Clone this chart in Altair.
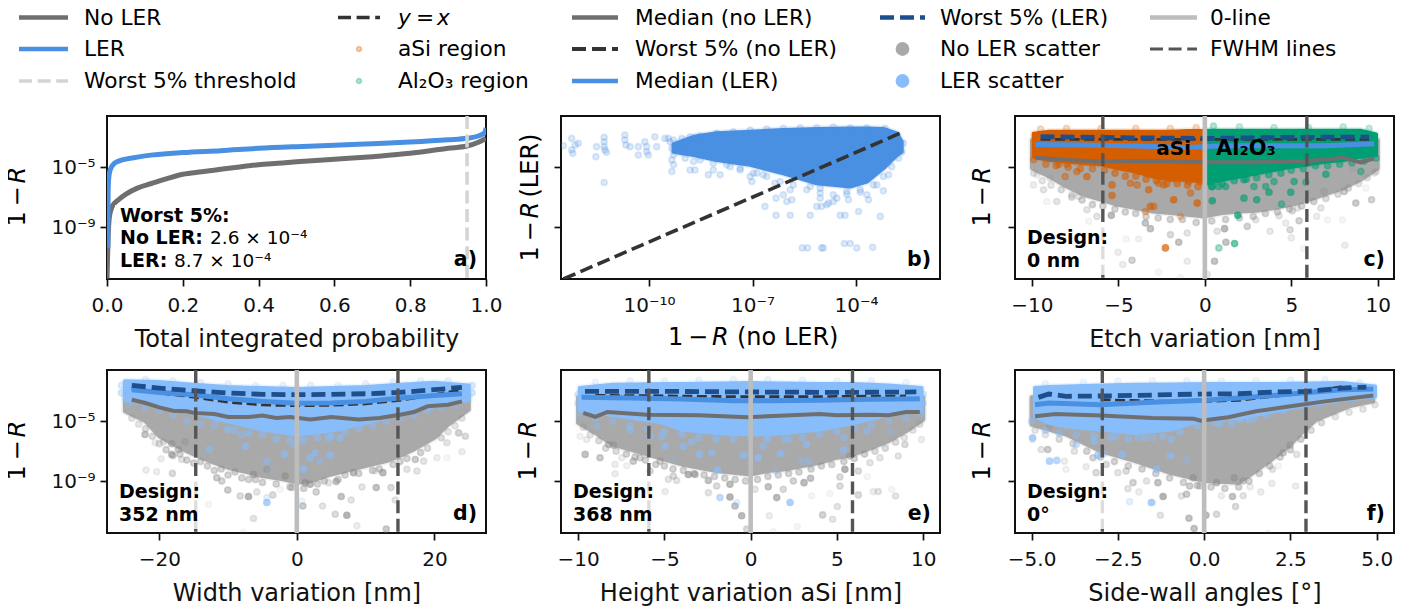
import altair as alt
import pandas as pd

FONT = "DejaVu Sans"
TICK_FS = 20
TITLE_FS = 24
LEG_FS = 21.7
ANN_FS = 18.5
BOLD_FS = 19
W, H = 379, 163
YDOM = [10 ** -12.48, 10 ** -1.57]

GRAY_LINE = "#6f6f6f"
BLUE_LINE = "#4a90e2"
DARK_BLUE = "#1f4e8c"
DARK = "#333333"
GRAY_PT = "#a9a9a9"
BLUE_PT = "#88bdfb"
ORANGE = "#d55e00"
GREEN = "#009e73"
ZERO = "#bdbdbd"
FWHM = "#555555"
THRESH = "#d4d4d4"

# panel a: exceedance curves (p, log10(1-R))
a_ler = [(0.002, -10.4), (0.003, -6.62), (0.005, -5.62), (0.01, -5.07), (0.02, -4.73), (0.04, -4.51),
         (0.07, -4.36), (0.1, -4.24), (0.2, -4.02), (0.3, -3.89), (0.4, -3.73), (0.5, -3.62), (0.6, -3.53),
         (0.7, -3.42), (0.8, -3.31), (0.9, -3.16), (0.95, -3.06), (0.98, -2.91), (0.99, -2.8), (0.998, -2.62),
         (1.0, -2.36)]
a_noler = [(0.0, -12.44), (0.001, -11.51), (0.003, -9.73), (0.006, -8.4), (0.012, -7.73), (0.02, -7.4),
           (0.03, -7.18), (0.05, -6.8), (0.08, -6.4), (0.12, -6.07), (0.16, -5.75), (0.2, -5.47), (0.25, -5.3),
           (0.3, -5.14), (0.35, -4.98), (0.4, -4.84), (0.45, -4.74), (0.5, -4.64), (0.6, -4.47), (0.7, -4.29),
           (0.8, -4.07), (0.9, -3.73), (0.95, -3.58), (0.98, -3.33), (1.0, -3.07)]

# panel b: dense envelope (x, top, bottom) and sparse points (x, y)
b_blob = [(-9.29, -3.47, -3.96), (-8.71, -2.96, -4.18), (-8.04, -2.73, -4.51), (-7.07, -2.62, -4.84),
          (-6.11, -2.51, -5.4), (-5.14, -2.44, -6.07), (-4.17, -2.4, -6.29), (-3.69, -2.4, -5.96),
          (-3.21, -2.44, -5.07), (-2.82, -2.73, -4.18), (-2.68, -3.29, -3.96)]
b_points = [(-12.48, -3.56), (-12.24, -3.07), (-12.24, -3.84), (-12.21, -4.07), (-12.05, -3.4), (-12.14, -3.51),
            (-11.54, -4.29), (-11.52, -3.62), (-11.3, -3.0), (-11.3, -3.29), (-11.3, -3.62), (-11.28, -3.84),
            (-11.23, -4.0), (-11.3, -6.02), (-10.7, -2.84), (-10.7, -3.18), (-10.67, -3.51), (-10.55, -3.62),
            (-10.31, -3.62), (-10.31, -4.18), (-10.12, -3.29), (-10.07, -3.62), (-10.07, -3.96), (-10.02, -4.18),
            (-9.83, -2.96), (-9.78, -3.62), (-9.54, -3.07), (-9.44, -3.07), (-9.39, -3.29), (-9.34, -3.73),
            (-9.2, -3.73), (-9.1, -3.51), (-9.05, -3.96), (-8.81, -2.96), (-9.34, -4.51), (-9.29, -4.84),
            (-9.34, -5.29), (-8.81, -5.18), (-8.67, -5.18), (-8.28, -5.51), (-8.14, -5.18), (-7.94, -5.51),
            (-7.65, -4.96), (-7.36, -5.07), (-7.07, -5.62), (-7.02, -5.96), (-6.88, -5.4), (-6.69, -5.51),
            (-6.64, -7.62), (-6.35, -6.07), (-6.32, -7.07), (-6.32, -8.22), (-6.11, -6.84), (-6.01, -7.29),
            (-5.91, -6.51), (-5.86, -7.18), (-5.91, -8.22), (-5.33, -8.22), (-5.14, -7.62), (-5.0, -7.62),
            (-4.8, -7.4), (-4.66, -7.29), (-4.22, -7.18), (-3.93, -7.96), (-3.64, -7.18), (-3.3, -8.29),
            (-4.46, -8.22), (-4.32, -8.22), (-5.56, -10.4), (-5.41, -10.4), (-5.0, -10.4), (-4.95, -10.4),
            (-4.34, -10.11), (-4.17, -10.11), (-3.98, -10.4), (-3.52, -10.36), (-5.04, -7.07), (-4.85, -7.51),
            (-4.56, -7.07), (-4.27, -6.62), (-3.88, -6.51), (-3.21, -6.58), (-3.06, -5.51), (-5.33, -6.29),
            (-5.04, -6.4), (-3.69, -6.84), (-3.4, -6.18),
            (-8.52, -2.89), (-8.04, -2.73), (-7.56, -2.62), (-7.07, -2.51), (-6.59, -2.44), (-6.11, -2.4),
            (-5.62, -2.36), (-5.14, -2.36), (-4.66, -2.31), (-4.17, -2.36), (-3.69, -2.36), (-3.16, -2.4),
            (-8.52, -4.51), (-8.14, -4.73), (-7.75, -4.84), (-7.36, -5.18), (-6.98, -5.4), (-6.59, -5.62),
            (-6.2, -5.96), (-5.82, -6.18), (-5.43, -6.51), (-5.04, -6.73), (-4.66, -6.84), (-4.27, -6.8),
            (-3.88, -6.67), (-3.5, -6.18), (-3.21, -5.62), (-2.97, -4.96), (-2.77, -4.4), (-2.68, -3.96),
            (-2.63, -3.4), (-9.29, -3.18), (-9.05, -3.07), (-9.29, -4.18), (-8.95, -4.4), (-8.71, -4.62)]
b_identity = [(-12.48, -12.48), (-2.72, -2.72)]

# panel c
c_gray_blob = [(-10, -3.2, -5.07), (-9, -3.2, -5.62), (-8, -3.2, -6.29), (-7, -3.2, -6.84), (-6, -3.2, -7.18),
               (-5, -3.2, -7.51), (-4, -3.2, -7.73), (-3, -3.2, -7.96), (-2, -3.2, -8.07), (-1, -3.2, -8.18),
               (0, -3.2, -8.29), (1, -3.2, -8.07), (2, -3.2, -7.96), (3, -3.2, -7.91), (4, -3.2, -7.73),
               (5, -3.2, -7.51), (6, -3.2, -7.18), (7, -3.2, -6.8), (8, -3.2, -6.4), (9, -3.2, -5.84),
               (10, -3.2, -5.07)]
c_orange_blob = [(-9.9, -2.75, -4.29), (-9, -2.62, -4.51), (-8, -2.62, -4.62), (-7, -2.62, -4.73), (-6, -2.62, -4.8),
                 (-5, -2.62, -5.07), (-4, -2.62, -5.29), (-3, -2.62, -5.62), (-2, -2.62, -5.84), (-1, -2.58, -5.84),
                 (-0.15, -2.58, -5.96)]
c_green_blob = [(0.15, -2.55, -6.07), (1, -2.55, -5.84), (2, -2.55, -5.62), (3, -2.55, -5.4), (4, -2.55, -5.18),
                (5, -2.55, -4.96), (6, -2.55, -4.8), (7, -2.55, -4.62), (8, -2.55, -4.51), (9, -2.55, -4.29),
                (9.9, -2.8, -4.18)]
c_gray = [(-5.41, -8.22, .8), (-3.44, -8.73, .7), (-3.15, -9.11, .7), (-1.99, -9.51, .4), (-1.51, -10.02, .7),
          (-1.02, -9.4, .3), (1.22, -10.02, .7), (1.14, -9.11, .8), (.56, -11.29, .7), (-4.21, -11.22, .5),
          (-4.75, -11.51, .2), (-5.02, -10.69, .2), (-4.54, -9.8, .1), (-3.83, -9.8, .15), (-2.67, -12.02, .1),
          (-1.02, -11.29, .2), (0.14, -12.18, .25), (-1.41, -12.4, .1), (.71, -9.29, .3), (2.45, -8.96, .5),
          (2.94, -8.51, .3), (4.29, -8.24, .3), (4.68, -8.73, .2), (4.93, -9.18, .4), (5.0, -9.73, .2),
          (3.77, -9.29, .25), (5.45, -8.58, .5), (6.47, -8.29, .2), (7.09, -8.51, .1), (7.96, -8.51, .1),
          (8.1, -10.22, .2), (5.7, -10.44, .1), (8.73, -7.4, .6), (8.06, -6.62, .6), (9.64, -7.18, .5),
          (6.71, -7.73, .3), (5.35, -7.73, .3), (5.06, -7.91, .4), (-6.24, -8.29, .3), (-6.72, -8.62, .1),
          (-6.82, -7.84, .3), (-8.56, -7.29, .3), (-9.14, -7.29, .1), (-9.33, -6.51, .3), (-9.91, -6.18, .2),
          (-7.69, -6.84, .3), (-7.3, -6.96, .3), (-9.72, -5.51, .2), (8.54, -5.07, .2), (9.8, -5.4, .2),
          (9.31, -6.4, .1), (6.9, -6.62, .3), (-8.95, -5.73, .2),
          (-9.9, -5.4, .3), (-9.4, -5.9, .3), (-8.9, -6.2, .3), (-8.3, -6.5, .4), (-7.7, -7, .4), (-7.1, -7.2, .5),
          (-6.5, -7.5, .5), (-5.9, -7.6, .5), (-5.2, -7.8, .5), (-4.6, -8, .5), (-4, -8.1, .5), (-3.4, -8.3, .5),
          (-2.7, -8.4, .5), (-2, -8.5, .5), (-1.3, -8.5, .5), (-0.5, -8.7, .5), (0.4, -8.6, .5), (1.2, -8.5, .5),
          (2, -8.4, .5), (2.8, -8.3, .5), (3.5, -8.1, .5), (4.2, -8, .5), (4.9, -7.8, .5), (5.6, -7.6, .5),
          (6.3, -7.3, .5), (7, -7.1, .4), (7.7, -6.8, .4), (8.3, -6.4, .4), (8.9, -6.1, .3), (9.4, -5.7, .3),
          (9.9, -5.3, .3)]
c_orange = [(-2.28, -10.4, 1), (-1.8, -7.18, 1), (-0.44, -7.4, 1), (-3.25, -6.51, .9), (-3.15, -7.62, .8),
            (-3.44, -7.96, .5), (-2.96, -7.62, .7), (-5.37, -6.89, .9), (-5.37, -6.18, .9), (-0.93, -5.96, .9),
            (-0.25, -5.96, .8), (-2.38, -6.18, .8), (-0.83, -6.73, .7), (-1.41, -8.29, .3), (-6.82, -5.62, .9),
            (-7.4, -5.29, .7), (-8.08, -5.62, .6), (-8.46, -4.8, .9), (-7.98, -4.8, .8), (-4.31, -6.07, .7),
            (-3.92, -6.18, .7), (-2.67, -6.07, .7),
            (-9.9, -4.5, .6), (-9.2, -4.8, .7), (-8.6, -4.9, .7), (-7.9, -5, .7), (-7.2, -5.1, .7), (-6.5, -5.1, .7),
            (-5.8, -5.2, .7), (-5.2, -5.4, .8), (-4.6, -5.6, .8), (-4, -5.6, .8), (-3.4, -5.8, .8), (-2.8, -5.9, .8),
            (-2.2, -6.1, .8), (-1.6, -6.1, .8), (-1, -6.2, .8), (-0.4, -6.3, .8),
            (-9.5, -2.45, .3), (-8, -2.4, .3), (-6, -2.4, .3), (-4, -2.4, .3), (-2, -2.4, .3), (-0.5, -2.35, .3)]
c_green = [(1.91, -8.22, 1), (0.43, -7.24, 1), (2.26, -7.07, .9), (3.0, -7.18, .9), (1.72, -10.11, .8),
           (0.81, -10.4, .5), (4.44, -7.47, .6), (4.97, -6.67, .9), (3.71, -6.67, .9), (5.16, -5.96, .8),
           (4.0, -5.96, .7), (7.0, -5.47, .9), (9.02, -5.29, .6), (5.84, -6.0, .6), (0.43, -6.29, .9),
           (.81, -6.29, .8), (1.2, -6.29, .8), (2.26, -5.84, .8), (2.84, -6.29, .7), (3.52, -6.29, .7),
           (0.4, -6.3, .8), (1, -6.1, .8), (1.7, -5.9, .8), (2.4, -5.8, .8), (3, -5.7, .8), (3.7, -5.5, .8),
           (4.4, -5.4, .8), (5, -5.2, .7), (5.7, -5.1, .7), (6.4, -4.9, .7), (7.1, -4.9, .7), (7.8, -4.8, .7),
           (8.5, -4.7, .7), (9.2, -4.6, .6), (9.9, -4.4, .6),
           (0.5, -2.25, .4), (2, -2.3, .3), (4, -2.35, .3), (6, -2.35, .3), (8, -2.3, .3), (9.5, -2.4, .3)]
c_med_noler = [(-9.8, -4.36), (-8, -4.51), (-6, -4.62), (-3, -4.58), (-0.2, -4.67), (3, -4.67), (6, -4.58),
               (8, -4.36), (9, -4.67), (9.8, -4.4)]
c_med_ler = [(-9.8, -3.47), (-7, -3.51), (-4, -3.58), (-1, -3.67), (1, -3.56), (4, -3.56), (7, -3.56), (9.8, -3.42)]
c_w_noler = [(-9.5, -3.13), (-5, -3.13), (0, -3.13), (5, -3.13), (9.5, -3.13)]
c_w_ler = [(-9.5, -2.96), (-5, -3.02), (0, -3.07), (5, -3.0), (9.5, -2.98)]

# panel d
d_gray_blob = [(-25, -3.2, -4.33), (-22, -3.2, -5), (-20, -3.2, -6), (-17, -3.2, -6.78), (-15, -3.2, -7.22),
               (-12, -3.2, -7.78), (-10, -3.2, -8.11), (-7, -3.2, -8.44), (-5, -3.2, -8.67), (-2, -3.2, -8.89),
               (0, -3.2, -9.11), (2, -3.2, -9), (5, -3.2, -8.56), (8, -3.2, -8.22), (10, -3.2, -8), (13, -3.2, -7.67),
               (15, -3.2, -7.33), (17, -3.2, -6.89), (20, -3.2, -6.11), (22, -3.2, -5.22), (25, -3.2, -4.22)]
d_blue_blob = [(-25, -2.33, -3.56), (-20, -2.38, -3.89), (-15, -2.56, -4.44), (-10, -2.71, -5), (-5, -2.78, -5.56),
               (0, -2.84, -5.89), (5, -2.78, -5.62), (10, -2.71, -5.11), (15, -2.56, -4.44), (20, -2.42, -4),
               (25, -2.6, -3.56)]
d_gray = [(-22.07, -5.89, .7), (-20.61, -6.44, .2), (-19.4, -6.38, .3), (-19.74, -7.51, .2), (-21.92, -8.27, .2),
          (-20.37, -8.38, .2), (-18.09, -8.49, .4), (-18.19, -6.51, .6), (-18.19, -7.22, .7), (-17.22, -6.89, .6),
          (-16.73, -7.56, .3), (-16.25, -6.38, .4), (-12.85, -10.56, .1), (-11.64, -8.78, .6), (-10.91, -9, .5),
          (-10.04, -9.6, .6), (-8.24, -10, .4), (-7.03, -10.04, .9), (-5.82, -9.73, .3), (-3.49, -9.93, .4),
          (-2.42, -9.56, .1), (-6.3, -8.56, .7), (-4.36, -8.22, .4), (-1.7, -8.67, .7), (-0.73, -9.44, .5),
          (0.87, -10.67, .6), (1.21, -9.11, .8), (1.94, -9.22, .8), (2.81, -9.73, .5), (3.73, -10.67, .3),
          (4.61, -9.11, .3), (5.72, -9.04, .7), (6.45, -10.04, .7), (7.9, -10.27, .3), (7.27, -11.29, .9),
          (5.58, -11.22, .4), (-6.3, -11.51, .3), (8.73, -12, .2), (13.0, -12.22, .6), (-7.76, -12.44, .1),
          (8.24, -8.44, .8), (9.46, -9.4, .3), (11.54, -9.44, .7), (12.51, -8.44, .8), (13.68, -9.44, .4),
          (14.31, -10.27, .3), (11.4, -8.33, .2), (16.0, -8.22, .3), (17.22, -7.56, .6), (18.43, -7.67, .3),
          (20.37, -7.44, .2), (21.82, -7.44, .1), (24.0, -7.04, .2), (23.52, -5.78, .5), (24.49, -6, .4),
          (21.82, -6.44, .3), (17.46, -8.33, .3),
          (-24, -4.8, .3), (-23, -5.2, .3), (-22, -5.5, .4), (-21, -6, .4), (-20, -6.5, .4), (-19, -6.9, .5),
          (-18, -7.3, .5), (-17, -7.2, .5), (-16, -7.6, .5), (-15, -7.8, .5), (-14, -7.7, .5), (-13, -8, .5),
          (-12, -8.3, .5), (-11, -8.2, .5), (-10, -8.6, .5), (-9, -8.4, .5), (-8, -8.8, .5), (-7, -8.9, .5),
          (-6, -8.9, .5), (-5, -9.1, .5), (-3, -9.2, .5), (-1, -9.4, .5), (1, -9.5, .5), (3, -9.2, .5), (4, -9, .5),
          (6, -8.9, .5), (7, -8.6, .5), (9, -8.5, .5), (11, -8.3, .5), (12, -8.2, .5), (14, -7.9, .5), (15, -7.7, .5),
          (16, -7.5, .5), (18, -7.1, .5), (19, -6.8, .4), (21, -6.1, .4), (22, -5.7, .3), (23, -5.3, .3), (24, -4.8, .3)]
d_blue = [(-4.36, -10.44, 1), (-4.36, -10.11, .3), (0.97, -8.22, .9), (0.73, -10.33, .2), (-7.52, -6.67, .9),
          (-10.04, -5.56, .8), (-12.71, -6.89, .7), (-1.79, -7.22, .9), (-4.36, -7.67, .6), (1.94, -7.44, .9),
          (3.39, -7.67, .5), (4.85, -7.27, .9), (2.67, -7.11, .8), (4.61, -6.11, .9), (6.3, -6.11, .8),
          (0.24, -6.22, .7), (-8.0, -5.89, .6), (-11.64, -4.89, .7), (-3.73, -8.33, .2), (-0.48, -6.56, .6),
          (-25.5, -3.1, .5), (-25.5, -2.6, .4), (-24.5, -3.9, .4), (-22, -4.1, .5), (-20, -4.3, .5), (-18, -4.6, .6),
          (-16, -5, .6), (-14, -5.2, .6), (-12, -5.3, .6), (-9, -5.6, .7), (-7, -5.8, .7), (-5, -5.9, .7),
          (-3, -6.2, .7), (-1, -6.3, .7), (1, -6.3, .7), (3, -6.1, .7), (5, -6, .7), (7, -5.7, .7), (9, -5.5, .7),
          (11, -5.3, .6), (13, -5, .6), (15, -4.8, .6), (17, -4.6, .6), (19, -4.3, .5), (21, -4.1, .5), (23, -3.9, .4),
          (25.5, -3.1, .5), (25.5, -2.6, .4),
          (-22, -2.2, .25), (-18, -2.3, .2), (-14, -2.4, .25), (-10, -2.5, .25), (-6, -2.6, .2), (-2, -2.6, .25),
          (2, -2.6, .25), (6, -2.6, .2), (10, -2.5, .25), (14, -2.4, .25), (18, -2.3, .2), (22, -2.3, .25)]
d_med_noler = [(-24, -3.56), (-22, -3.78), (-20, -4.07), (-18, -4.29), (-16, -4.33), (-15, -4.44), (-12, -4.51),
               (-10, -4.71), (-7, -4.71), (-5, -4.62), (-3, -4.78), (-1, -4.71), (2, -4.89), (5, -4.71), (9, -4.89),
               (12, -4.78), (15, -4.56), (17, -4.38), (19, -4.0), (22, -3.89), (24, -3.67)]
d_med_ler = [(-24, -2.89), (-20, -3.07), (-15, -3.22), (-10, -3.49), (-5, -3.67), (0, -3.8), (5, -3.78), (10, -3.67),
             (15, -3.44), (20, -3.27), (24, -3.16)]
d_w_noler = [(-24, -2.78), (-20, -3.11), (-15, -3.38), (-10, -3.73), (-5, -3.91), (0, -3.96), (5, -3.93), (10, -3.84),
             (15, -3.6), (20, -3.22), (24, -2.89)]
d_w_ler = [(-24, -2.6), (-20, -2.78), (-15, -2.96), (-10, -3.11), (-5, -3.2), (0, -3.22), (5, -3.2), (10, -3.16),
           (15, -3.07), (20, -2.89), (24, -2.73)]

# panel e
e_gray_blob = [(-10, -3.4, -5.11), (-9, -3.4, -5.78), (-8, -3.4, -6.56), (-6, -3.4, -7.22), (-5, -3.4, -7.56),
               (-4, -3.4, -7.89), (-3, -3.4, -8.11), (-2, -3.4, -8.33), (-1, -3.4, -8.44), (0, -3.4, -8.56),
               (1, -3.4, -8.33), (2, -3.4, -8.22), (3, -3.4, -8), (4, -3.4, -7.78), (5, -3.4, -7.44), (6, -3.4, -7.22),
               (7, -3.4, -6.78), (8, -3.4, -6.33), (9, -3.4, -5.67), (10, -3.4, -4.89)]
e_blue_blob = [(-9.9, -2.78, -4.22), (-8, -2.56, -4.56), (-5, -2.51, -5.11), (-4, -2.51, -5.56), (-2, -2.48, -5.78),
               (0, -2.44, -5.89), (2, -2.48, -5.78), (4, -2.51, -5.56), (6, -2.51, -5.11), (8, -2.6, -4.56),
               (9.9, -2.78, -4.22)]
e_gray = [(-9.59, -7.22, .7), (-8.73, -7.44, .6), (-8.24, -6.56, .6), (-7.95, -6.6, .6), (-6.8, -7.67, .6),
          (-7.86, -7.89, .2), (-7.86, -8.51, .2), (-7.18, -7.98, .15), (-7.47, -7.44, .2), (-6.41, -7.44, .5),
          (-5.83, -8.33, .4), (-5.25, -7.67, .5), (-4.96, -9.71, .2), (-4.77, -8.89, .3), (-4.48, -8.67, .4),
          (-4.29, -8.96, .3), (-3.61, -8.56, .9), (-3.22, -8.56, .7), (-2.45, -8.96, .7), (-2.45, -9.78, .3),
          (-1.97, -9.33, .4), (-1.2, -9.22, .8), (-1.2, -10.07, .9), (-0.91, -10.67, .7), (-0.52, -11.33, .8),
          (-0.23, -12.22, .4), (0.25, -9.56, .3), (1.02, -9.38, .7), (1.08, -11.33, .2), (1.31, -12.4, .1),
          (1.51, -10.11, .8), (1.89, -9.56, .4), (2.47, -9, .5), (3.09, -9.11, .8), (3.47, -8.82, .7),
          (2.7, -12.04, .1), (3.53, -9.99, .1), (4.59, -9.84, .1), (4.17, -11.27, .5), (4.75, -11.56, .3),
          (5.02, -10.71, .3), (5.17, -8.73, .4), (5.17, -9.33, .4), (5.46, -8.22, .9), (5.75, -7.33, .5),
          (6.24, -9.93, .4), (6.24, -8.33, .4), (6.76, -8.71, .1), (7.1, -9.71, .2), (7.39, -9.71, .3),
          (8.17, -9.56, .1), (8.4, -10, .3), (6.91, -7.78, .3), (7.49, -7.44, .3), (8.55, -7.33, .3),
          (8.94, -6.56, .4), (9.9, -6.22, .2), (-9.88, -6, .15), (-9.5, -6.22, .2),
          (-9.7, -5.4, .3), (-9.3, -5.9, .3), (-8.8, -6.3, .4), (-8.4, -6.8, .4), (-7.8, -7, .4), (-7.2, -7.2, .5),
          (-6.7, -7.4, .5), (-6.1, -7.6, .5), (-5.5, -7.9, .5), (-5, -8, .5), (-4.5, -8.2, .5), (-3.9, -8.3, .5),
          (-3.3, -8.5, .5), (-2.7, -8.6, .5), (-2.1, -8.7, .5), (-1.5, -8.8, .5), (-0.9, -8.9, .5), (-0.3, -9, .5),
          (0.4, -8.9, .5), (1, -8.7, .5), (1.6, -8.6, .5), (2.2, -8.5, .5), (2.8, -8.4, .5), (3.5, -8.2, .5),
          (4.1, -8, .5), (4.7, -7.9, .5), (5.4, -7.7, .5), (6, -7.5, .5), (6.6, -7.2, .5), (7.2, -7, .4),
          (7.8, -6.8, .4), (8.4, -6.4, .4), (8.9, -6.1, .3), (9.4, -5.6, .3), (9.8, -5.2, .3)]
e_blue = [(-1.93, -8.27, 1), (-1.78, -10.11, .7), (-0.81, -10.44, .3), (2.28, -10.44, 1), (0.44, -7.44, 1),
          (-0.42, -7.27, .9), (1.74, -7.16, .9), (-2.97, -7.22, .9), (-2.26, -7.11, .8), (-4.96, -6.67, .9),
          (-5.83, -6, .8), (-5.15, -6, .7), (-3.42, -6.38, .7), (-3.9, -6.67, .8), (0.93, -6, .9), (0.73, -6.67, .7),
          (2.24, -6.22, .6), (3.24, -6.56, .8), (5.37, -6.93, .8), (5.41, -6.11, .6), (2.95, -7.67, .4),
          (3.34, -7.62, .5), (3.44, -8, .2), (1.47, -8.33, .3), (-4.48, -7.56, .2), (-6.99, -5.56, .8),
          (-8.92, -5.33, .5), (6.72, -5.67, .6), (8.07, -5.71, .3),
          (-9.9, -4.5, .5), (-9, -4.8, .5), (-8, -5, .5), (-7, -5.3, .6), (-6, -5.5, .6), (-5, -5.7, .7),
          (-4, -5.9, .7), (-3, -6.1, .7), (-2, -6.2, .7), (-1, -6.2, .7), (1, -6.2, .7), (2, -6.2, .7), (3, -6.1, .7),
          (4, -5.9, .7), (5, -5.7, .7), (6, -5.5, .6), (7, -5.3, .6), (8, -5, .5), (9, -4.8, .5), (9.9, -4.5, .5),
          (-9, -2.4, .2), (-7, -2.3, .2), (-5, -2.3, .2), (-3, -2.25, .2), (-1, -2.2, .2), (1, -2.2, .2),
          (3, -2.25, .2), (5, -2.3, .2), (7, -2.3, .2), (9, -2.4, .2),
          (-10, -3.2, .4), (-10, -3.8, .4), (10, -3.2, .4), (10, -3.8, .4)]
e_med_noler = [(-9.7, -4.44), (-9, -4.71), (-8.3, -4.38), (-6, -4.56), (-3, -4.6), (-0.2, -4.73), (3, -4.56),
               (4, -4.51), (5, -4.6), (7, -4.56), (8, -4.6), (9, -4.38), (9.8, -4.38)]
e_med_ler = [(-9.8, -3.4), (-7, -3.44), (-4, -3.51), (-1, -3.62), (1, -3.62), (4, -3.6), (7, -3.53), (9.8, -3.49)]
e_w_noler = [(-9, -3.27), (-6, -3.29), (-3, -3.33), (0, -3.36), (3, -3.36), (6, -3.33), (9, -3.31)]
e_w_ler = [(-9.6, -3.0), (-5, -3.0), (0, -3.04), (5, -3.07), (9.6, -3.04)]

# panel f
f_gray_blob = [(-5, -3.4, -5.22), (-4, -3.4, -5.89), (-3, -3.4, -7), (-2, -3.4, -7.67), (-1, -3.4, -8.44),
               (0, -3.4, -9), (1, -3.4, -9.11), (1.5, -3.4, -8.33), (1.9, -3.4, -7.67), (2.5, -3.4, -6.56),
               (2.92, -3.4, -5.56), (3.26, -3.4, -4.89), (4.2, -3.2, -4), (4.9, -2.9, -3.67)]
f_blue_blob = [(-4.9, -2.78, -4.67), (-4.5, -2.7, -5.11), (-4, -2.67, -5.33), (-3, -2.6, -5.56), (-2, -2.56, -5.78),
               (-1, -2.54, -5.56), (0, -2.51, -4.89), (1, -2.51, -4.78), (2, -2.51, -4.33), (3, -2.47, -3.89),
               (4, -2.44, -3.56), (4.95, -2.67, -3.33)]
f_gray = [(-1.19, -10.04, .9), (-1.34, -9.11, .7), (-1.67, -9, .3), (-2.06, -9.11, .5), (-2.21, -9.51, .3),
          (-1.89, -9.73, .2), (-1.48, -10.44, .1), (-0.66, -10, .3), (-0.51, -9.89, .6), (-0.42, -9.33, .6),
          (-0.13, -9.33, .5), (-0.32, -8.78, .7), (-0.44, -11.49, .7), (-0.29, -12.18, .7), (0.05, -11.29, .8),
          (0.36, -11.22, .4), (-1.27, -11.29, .3), (0.82, -10.04, .7), (0.91, -10.71, .4), (0.5, -9.99, .2),
          (1.13, -9.99, .3), (1.33, -9.38, .2), (1.64, -9.73, .2), (1.96, -9.16, .2), (2.65, -9.33, .2),
          (0.87, -8.78, .6), (1.13, -9, .5), (0.36, -9.11, .7), (1.98, -8.22, .3), (2.29, -7.11, .6),
          (2.49, -6.6, .5), (2.68, -7.22, .3), (2.15, -8, .1), (-3.13, -8.44, .4), (-2.84, -7.89, .4),
          (-2.5, -8.44, .3), (-2.26, -8.33, .4), (-4.0, -8.22, .15), (-3.42, -8.04, .2), (-4.53, -6.89, .6),
          (-4.72, -6.89, .3), (-4.05, -7.67, .2), (-4.97, -6.22, .2), (-4.48, -5.33, .4), (1.86, -12.5, .1),
          (-3.76, -7.0, .3), (-3.22, -7.44, .5),
          (-4.9, -5.6, .3), (-4.6, -5.9, .3), (-4.2, -6.2, .4), (-3.8, -6.5, .4), (-3.4, -7, .5), (-3, -7.4, .5),
          (-2.6, -7.7, .5), (-2.2, -8, .5), (-1.8, -8.2, .5), (-1.4, -8.5, .5), (-1, -8.8, .5), (-0.6, -9.1, .5),
          (-0.2, -9.3, .5), (0.2, -9.4, .5), (0.6, -9.5, .5), (1, -9.4, .5), (1.3, -9, .5), (1.6, -8.5, .5),
          (1.9, -8, .5), (2.2, -7.4, .5), (2.5, -6.9, .5), (2.8, -6.2, .5), (3.1, -5.6, .4), (3.4, -5.1, .4),
          (3.8, -4.7, .3), (4.2, -4.4, .3), (4.6, -4.2, .3), (4.95, -3.9, .3)]
f_blue = [(-1.53, -10.44, 1), (-2.16, -10.38, .3), (-1.38, -8.22, .9), (-0.98, -7.33, .9), (-2.38, -7.22, .9),
          (-3.08, -7.27, .9), (-2.93, -7.18, .6), (-4.48, -7.67, .9), (-4.27, -7.62, .8), (-4.97, -6.11, .9),
          (-3.71, -6.56, .6), (-3.18, -6.33, .8), (-2.55, -6, .6), (-1.92, -6.11, .5), (-1.48, -6.11, .5),
          (-0.95, -6.22, .7), (-0.51, -7.56, .4), (1.04, -4.89, .8), (1.47, -4.78, .6), (0.45, -5.18, .8),
          (-1.19, -5.33, .5), (-4.29, -4.96, .6),
          (-5, -5, .5), (-4.6, -5.6, .6), (-4.2, -5.8, .6), (-3.7, -5.9, .6), (-3.2, -6, .7), (-2.7, -6.1, .7),
          (-2.2, -6.2, .7), (-1.7, -6.1, .7), (-1.2, -6, .7), (-0.7, -5.7, .7), (-0.2, -5.3, .7), (0.3, -5.1, .7),
          (0.8, -5.2, .7), (1.3, -4.9, .7), (1.8, -4.6, .6), (2.3, -4.3, .6), (2.8, -4, .5), (3.3, -3.8, .5),
          (3.8, -3.6, .5), (4.3, -3.4, .4), (4.9, -3.2, .4),
          (-4.6, -2.5, .2), (-3.5, -2.4, .2), (-2.5, -2.3, .2), (-1.5, -2.3, .2), (-0.5, -2.3, .2), (0.5, -2.3, .2),
          (1.5, -2.3, .2), (2.5, -2.25, .2), (3.5, -2.2, .2), (4.5, -2.4, .2)]
f_med_noler = [(-4.9, -4.67), (-4.3, -4.51), (-3, -4.62), (-1.5, -4.78), (-0.3, -4.84), (-0.1, -4.96), (0.7, -4.73),
               (1.5, -4.33), (2.5, -4.0), (3.5, -3.67), (4.9, -3.27)]
f_med_ler = [(-4.9, -3.89), (-4.5, -3.78), (-3, -3.89), (-1.5, -3.73), (0, -3.6), (1, -3.44), (2, -3.27), (3, -3.07),
             (4, -2.89), (4.9, -2.84)]
f_w_noler = [(-3, -3.56), (-1, -3.67), (0, -3.67), (1, -3.6), (2, -3.33), (3, -3.11), (4, -2.67)]
f_w_ler = [(-4.8, -3.4), (-4.5, -3.18), (-4, -3.33), (-3, -3.31), (-2, -3.27), (-1, -3.22), (0, -3.18), (1, -3.16),
           (2, -3.04), (3, -3.0), (4, -2.78), (4.7, -2.71)]

ONE = pd.DataFrame({"k": [0]})
AX = {"x": None, "y": None}


def set_axes(xvals, xtitle, xfmt=None, ylabels=False, xexpr=None):
    ykw = {"labelExpr": "datum.value < 1e-7 ? '10⁻⁹' : '10⁻⁵'"} if ylabels else {"labels": False}
    xkw = {}
    if xfmt:
        xkw["format"] = xfmt
    if xexpr:
        xkw["labelExpr"] = xexpr
    AX["x"] = alt.Axis(values=xvals, title=xtitle, **xkw)
    AX["y"] = alt.Axis(values=[1e-9, 1e-5], title=None, **ykw)


def text(t, x, y, size=ANN_FS, bold=False, italic=False, align="left", angle=None, color="#000000", baseline="middle"):
    kw = {}
    if angle is not None:
        kw["angle"] = angle
    return alt.Chart(pd.DataFrame({"t": [t]})).mark_text(
        font=FONT, fontSize=size, fontWeight="bold" if bold else "normal",
        fontStyle="italic" if italic else "normal", align=align, baseline=baseline, color=color, **kw
    ).encode(x=alt.value(x), y=alt.value(y), text="t:N")


def scale_x(dom, xlog=False):
    if xlog:
        return alt.Scale(type="log", domain=dom, nice=False)
    return alt.Scale(domain=dom, nice=False, zero=False)


YS = alt.Scale(type="log", domain=YDOM, nice=False, clamp=False)


def X(dom, xlog=False):
    return alt.X("x:Q", scale=scale_x(dom, xlog), axis=AX["x"])


def Y(field="y:Q"):
    return alt.Y(field, scale=YS, axis=AX["y"])


def line(rows, dom, color, width, dash=None, xlog=False, interp="linear"):
    d = pd.DataFrame({"x": [10 ** r[0] if xlog else r[0] for r in rows], "y": [10 ** r[1] for r in rows]})
    kw = {"strokeDash": dash} if dash else {}
    return alt.Chart(d).mark_line(color=color, strokeWidth=width, clip=True, strokeCap="butt", interpolate=interp,
                                  **kw).encode(x=X(dom, xlog), y=Y(), order=alt.Order("x:Q"))


def blob(rows, dom, color, halo=7, inner=4, xlog=False):
    d = pd.DataFrame({"x": [10 ** r[0] if xlog else r[0] for r in rows], "top": [10 ** r[1] for r in rows],
                      "bot": [10 ** r[2] for r in rows]})
    out = []
    for sw, op in ((halo, 0.15), (inner, 1.0)):
        out.append(alt.Chart(d).mark_area(color=color, stroke=color, strokeWidth=sw, strokeJoin="round",
                                          opacity=op, clip=True).encode(x=X(dom, xlog), y=Y("top:Q"), y2="bot:Q"))
    return out


def points(rows, dom, color, alpha=None, xlog=False, size=36):
    d = pd.DataFrame({"x": [10 ** r[0] if xlog else r[0] for r in rows], "y": [10 ** r[1] for r in rows],
                      "a": [alpha if alpha is not None else r[2] for r in rows]})
    return alt.Chart(d).mark_circle(color=color, stroke=color, strokeWidth=1.6, size=size, clip=True).encode(
        x=X(dom, xlog), y=Y(),
        fillOpacity=alt.FillOpacity("a:Q", scale=None), strokeOpacity=alt.StrokeOpacity("a:Q", scale=None))


def vrule(x, dom, color, width, dash=None):
    kw = {"strokeDash": dash} if dash else {}
    return alt.Chart(pd.DataFrame({"x": [x]})).mark_rule(color=color, strokeWidth=width, clip=True, **kw).encode(
        x=X(dom))


def box(x1, x2, y1, y2):
    return alt.Chart(ONE).mark_rect(color="white", opacity=0.8).encode(
        x=alt.value(x1), x2=alt.value(x2), y=alt.value(y1), y2=alt.value(y2))


def ytitle(xrel, rest=None):
    base = H / 2 + 29 if rest is None else H / 2 + 64
    out = [text("1\u2009−", xrel, base, TITLE_FS, angle=270),
           text("R", xrel, base - 43, TITLE_FS, italic=True, angle=270)]
    if rest:
        out.append(text(rest, xrel, base - 64, TITLE_FS, angle=270))
    return out


def tag(s):
    return text(s, W - 9, H - 19, 20.5, bold=True, align="right")


def design(l1, l2):
    return [box(9, 93, 111, 159), text(l1, 12, 122, BOLD_FS, bold=True), text(l2, 12, 145, BOLD_FS, bold=True)]


def scan_panel(dom, xvals, xtitle, gray_blob, blue_blobs, gray_pts, col_pts, lines, fw, tagname, d1, d2, ylabels,
               ytx, xfmt=None, extra=None):
    set_axes(xvals, xtitle, xfmt=xfmt, ylabels=ylabels)
    layers = []
    layers += blob(gray_blob, dom, GRAY_PT)
    layers.append(points(gray_pts, dom, "#8a8a8a"))
    for b, c in blue_blobs:
        layers += blob(b, dom, c)
    for p, c in col_pts:
        layers.append(points(p, dom, c))
    wn, mn, ml, wl = lines
    layers += [line(wn, dom, DARK, 2.8, [10, 4.5]), line(mn, dom, GRAY_LINE, 4), line(ml, dom, BLUE_LINE, 5),
               line(wl, dom, DARK_BLUE, 4.8, [14, 6])]
    layers += [vrule(-fw, dom, FWHM, 3.4, [13, 5.6]), vrule(fw, dom, FWHM, 3.4, [13, 5.6]), vrule(0, dom, ZERO, 4.6)]
    layers += design(d1, d2)
    layers += ytitle(ytx)
    if extra:
        layers += extra
    layers.append(tag(tagname))
    return alt.layer(*layers).properties(width=W, height=H)


# Legend (page coordinates, offset to panel a's origin)
OX, OY = 107, 116
ROWS = [17.5, 49, 81]
LEG_X = [(19, 68, 84), (338, 380, 398), (572, 618, 635), (880, 925, 940), (1150, 1197, 1210)]
legend_entries = [
    (0, 0, "No LER", "line", GRAY_LINE, 4.6, None), (0, 1, "LER", "line", BLUE_LINE, 4.6, None),
    (0, 2, "Worst 5% threshold", "line", THRESH, 3.6, [13, 5.6]),
    (1, 0, None, "line", DARK, 3.5, [13, 5.6]), (1, 1, "aSi region", "dot", "#d55e00", 0, None),
    (1, 2, "Al₂O₃ region", "dot", "#009e73", 0, None),
    (2, 0, "Median (no LER)", "line", GRAY_LINE, 4.6, None), (2, 1, "Worst 5% (no LER)", "line", DARK, 4.2, [14, 6]),
    (2, 2, "Median (LER)", "line", BLUE_LINE, 4.6, None),
    (3, 0, "Worst 5% (LER)", "line", DARK_BLUE, 4.6, [14, 6]), (3, 1, "No LER scatter", "big", GRAY_PT, 0, None),
    (3, 2, "LER scatter", "big", BLUE_PT, 0, None),
    (4, 0, "0-line", "line", ZERO, 4.6, None), (4, 1, "FWHM lines", "line", FWHM, 3.2, [13, 5.6]),
]
legend_layers = []
for col, row, label, kind, color, w, dash in legend_entries:
    x0, x1, xt = LEG_X[col]
    y = ROWS[row] - OY
    if kind == "line":
        kw = {"strokeDash": dash} if dash else {}
        legend_layers.append(alt.Chart(ONE).mark_rule(color=color, strokeWidth=w, **kw).encode(
            x=alt.value(x0 - OX), x2=alt.value(x1 - OX), y=alt.value(y)))
    elif kind == "dot":
        legend_layers.append(alt.Chart(ONE).mark_circle(color=color, stroke=color, strokeWidth=1.6, size=26,
                                                        fillOpacity=0.3, strokeOpacity=0.3).encode(
            x=alt.value((x0 + x1) / 2 - OX), y=alt.value(y)))
    else:
        legend_layers.append(alt.Chart(ONE).mark_circle(color=color, size=190, opacity=1).encode(
            x=alt.value((x0 + x1) / 2 - OX), y=alt.value(y)))
    if label:
        legend_layers.append(text(label, xt - OX, y, LEG_FS))
legend_layers += [text("y", 398 - OX, ROWS[0] - OY, LEG_FS, italic=True), text("=", 416 - OX, ROWS[0] - OY, LEG_FS),
                  text("x", 437 - OX, ROWS[0] - OY, LEG_FS, italic=True)]

# Panels
a_dom = [0, 1]
set_axes([0, .2, .4, .6, .8, 1.0], "Total integrated probability", xfmt=".1f", ylabels=True)
panel_a = alt.layer(
    line(a_noler, a_dom, GRAY_LINE, 5, interp="monotone"), line(a_ler, a_dom, BLUE_LINE, 5, interp="monotone"),
    vrule(0.95, a_dom, THRESH, 3.6, [13, 5.6]),
    box(8, 201, 89, 154),
    text("Worst 5%:", 13, 100, BOLD_FS, bold=True),
    text("No LER:", 13, 122, BOLD_FS, bold=True), text("2.6 × 10⁻⁴", 103, 122, ANN_FS),
    text("LER:", 13, 145, BOLD_FS, bold=True), text("8.7 × 10⁻⁴", 67, 145, ANN_FS),
    *ytitle(-89),
    tag("a)"),
    *legend_layers,
).properties(width=W, height=H)

b_dom = [10 ** -12.55, 10 ** -1.57]
set_axes([1e-10, 1e-7, 1e-4], None, xexpr="datum.value < 1e-8 ? '10⁻¹⁰' : datum.value < 1e-5 ? '10⁻⁷' : '10⁻⁴'")
panel_b = alt.layer(
    *blob(b_blob, b_dom, BLUE_LINE, xlog=True),
    points(b_points, b_dom, BLUE_LINE, alpha=0.28, xlog=True),
    line(b_identity, b_dom, DARK, 3.6, [13, 5.6], xlog=True),
    *ytitle(-30, "(LER)"),
    text("1\u2009−", 107, 222, TITLE_FS), text("R", 151, 222, TITLE_FS, italic=True), text("(no LER)", 176, 222, TITLE_FS),
    tag("b)"),
).properties(width=W, height=H)

panel_c = scan_panel([-10.98, 10.94], [-10, -5, 0, 5, 10], "Etch variation [nm]", c_gray_blob,
                     [(c_orange_blob, ORANGE), (c_green_blob, GREEN)], c_gray, [(c_orange, ORANGE), (c_green, GREEN)],
                     (c_w_noler, c_med_noler, c_med_ler, c_w_ler), 5.9, "c)", "Design:", "0 nm", False, -32,
                     extra=[text("aSi", 176, 33, 20, bold=True, align="right"),
                            text("Al₂O₃", 201, 33, 21, bold=True)])
panel_d = scan_panel([-27.6, 27.5], [-20, 0, 20], "Width variation [nm]", d_gray_blob, [(d_blue_blob, BLUE_PT)],
                     d_gray, [(d_blue, BLUE_PT)], (d_w_noler, d_med_noler, d_med_ler, d_w_ler), 14.7, "d)", "Design:",
                     "352 nm", True, -89)
panel_e = scan_panel([-10.99, 10.97], [-10, -5, 0, 5, 10], "Height variation aSi [nm]", e_gray_blob,
                     [(e_blue_blob, BLUE_PT)], e_gray, [(e_blue, BLUE_PT)],
                     (e_w_noler, e_med_noler, e_med_ler, e_w_ler), 5.9, "e)", "Design:", "368 nm", False, -32)
panel_f = scan_panel([-5.48, 5.5], [-5, -2.5, 0, 2.5, 5], "Side-wall angles [°]", f_gray_blob,
                     [(f_blue_blob, BLUE_PT)], f_gray, [(f_blue, BLUE_PT)],
                     (f_w_noler, f_med_noler, f_med_ler, f_w_ler), 2.95, "f)", "Design:", "0°", False, -32, xfmt=".1f")

chart = alt.concat(panel_a, panel_b, panel_c, panel_d, panel_e, panel_f, columns=3,
                   spacing=alt.RowColnumber(row=91, column=75), bounds="flush").configure_view(
    stroke="#111111", strokeWidth=2, fill=None
).configure_axis(
    domain=False, grid=False, tickColor="#111111", tickWidth=1.7, tickSize=7, labelFont=FONT, labelFontSize=TICK_FS,
    labelColor="#111111", titleFont=FONT, titleFontSize=TITLE_FS, titleFontWeight="normal",
    titleColor="#111111", labelOverlap=False, labelFlush=False
).configure_axisX(labelPadding=9, titlePadding=12).configure_axisY(labelPadding=5).properties(
    padding={"left": -3, "top": -2, "right": 0, "bottom": 0}, background="white")

chart.save("out.html", embed_options={"renderer": "svg", "actions": False})
